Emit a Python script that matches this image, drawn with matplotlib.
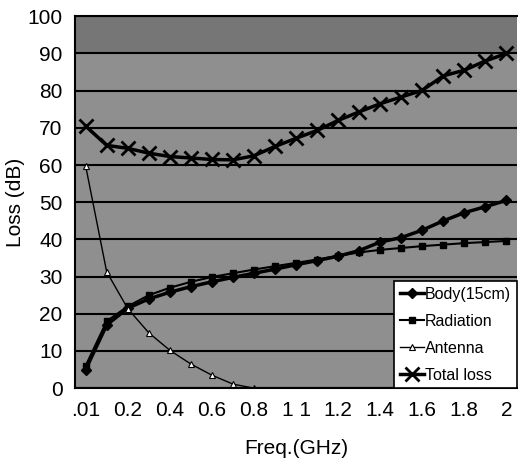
import matplotlib.pyplot as plt
import numpy as np

plt.rcParams['font.family'] = ['Liberation Sans', 'DejaVu Sans']

# frequency categories (GHz)
freq = ['.01', '0.1', '0.2', '0.3', '0.4', '0.5', '0.6', '0.7', '0.8', '0.9', '1.0',
        '1.1', '1.2', '1.3', '1.4', '1.5', '1.6', '1.7', '1.8', '1.9', '2.0']
tick_labels = ['.01', '0.2', '0.4', '0.6', '0.8', '1 1', '1.2', '1.4', '1.6', '1.8', '2']

body = [5, 17, 21.5, 24, 25.8, 27.3, 28.6, 29.8, 30.9, 32, 33.2,
        34.3, 35.5, 37, 39.3, 40.5, 42.5, 45, 47.2, 48.8, 50.5]
radiation = [6, 18, 22, 25, 27, 28.6, 29.9, 30.9, 31.9, 32.8, 33.7,
             34.6, 35.6, 36.5, 37.2, 37.7, 38.2, 38.6, 39, 39.3, 39.6]
antenna = [59.8, 31.3, 21.4, 14.9, 10.2, 6.5, 3.5, 1.1, 0]
total = [70.5, 65.3, 64.5, 63.2, 62.3, 61.9, 61.5, 61.4, 62.5, 65, 67.2,
         69.3, 72, 74.3, 76.5, 78.3, 80.1, 84, 85.5, 88, 90]

x = np.arange(len(freq))

fig = plt.figure(figsize=(5.18, 4.66), dpi=100)
ax = fig.add_axes([0.145, 0.167, 0.853, 0.798])
ax.set_facecolor('#8f8f8f')
ax.axhspan(90, 100, color='#767676', zorder=0, lw=0)

ax.plot(x, body, color='black', lw=2.5, marker='D', ms=5, label='Body(15cm)')
ax.plot(x, radiation, color='black', lw=1.5, marker='s', ms=5, label='Radiation')
ax.plot(x[:len(antenna)], antenna, color='black', lw=1, marker='^', ms=5,
        mfc='white', mec='black', mew=0.8, label='Antenna')
ax.plot(x, total, color='black', lw=2.5, marker='x', ms=10, mew=2, label='Total loss')

ax.set_xlim(-0.5, len(freq) - 0.5)
ax.set_ylim(0, 100)
ax.set_yticks(np.arange(0, 101, 10))
ax.set_xticks(x[::2])
ax.set_xticklabels(tick_labels)
ax.tick_params(length=0, labelsize=15, pad=9)
ax.yaxis.grid(True, color='black', lw=1.5)
ax.set_axisbelow(True)
for s in ['top', 'left', 'bottom']:
    ax.spines[s].set_linewidth(1.5)
ax.spines['right'].set_visible(False)

ax.set_ylabel('Loss (dB)', fontsize=15, labelpad=2)
ax.set_xlabel('Freq.(GHz)', fontsize=15, labelpad=14)

leg = ax.legend(loc='lower right', fontsize=11.5, frameon=True, fancybox=False,
                edgecolor='black', framealpha=1, borderaxespad=0, borderpad=0.35,
                handlelength=1.5, labelspacing=0.75, handletextpad=0.1)
leg.get_frame().set_linewidth(1.2)

fig.savefig('out.png', dpi=100)
